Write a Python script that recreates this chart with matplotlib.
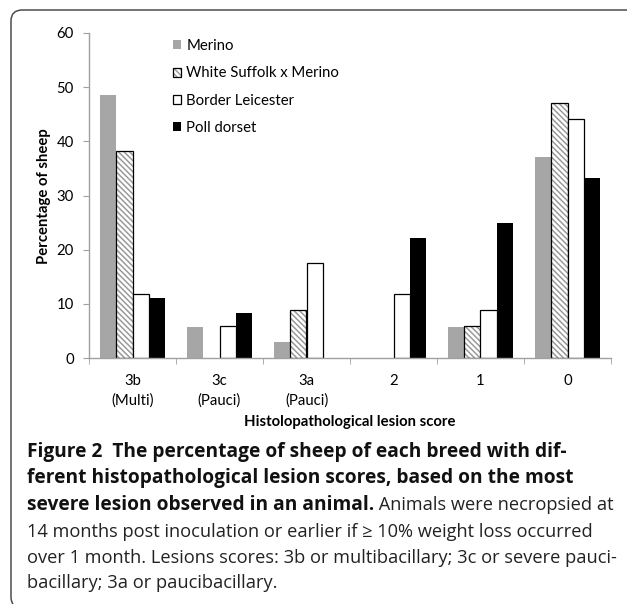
import matplotlib
matplotlib.use("Agg")
import matplotlib.pyplot as plt
from matplotlib.patches import Patch, FancyBboxPatch
import numpy as np

# data
categories = ["3b\n(Multi)", "3c\n(Pauci)", "3a\n(Pauci)", "2", "1", "0"]
breeds = ["Merino", "White Suffolk x Merino", "Border Leicester", "Poll dorset"]
merino = [48.6, 5.7, 2.9, 0, 5.7, 37.1]
ws_merino = [38.2, 0, 8.8, 0, 5.9, 47.1]
border_leicester = [11.8, 5.9, 17.6, 11.8, 8.8, 44.1]
poll_dorset = [11.1, 8.3, 0, 22.2, 25.0, 33.3]
y_ticks = [0, 10, 20, 30, 40, 50, 60]

caption_bold = ["Figure 2  The percentage of sheep of each breed with dif-",
                "ferent histopathological lesion scores, based on the most",
                "severe lesion observed in an animal."]
caption_rest = [" Animals were necropsied at",
                "14 months post inoculation or earlier if \u2265 10% weight loss occurred",
                "over 1 month. Lesions scores: 3b or multibacillary; 3c or severe pauci-",
                "bacillary; 3a or paucibacillary."]

W, H = 627, 604
plt.rcParams['font.family'] = ['Lato', 'DejaVu Sans']
plt.rcParams['hatch.linewidth'] = 1.1
fig = plt.figure(figsize=(W / 100, H / 100), dpi=100)
fs = 10.7

# rounded frame around figure + caption (cut at right and bottom)
frame = FancyBboxPatch((11 / W, -4 / H), 700 / W, (H - 10 + 4) / H,
                       boxstyle="round,pad=0,rounding_size=0.018",
                       transform=fig.transFigure, fill=False,
                       edgecolor="#4d4d4d", linewidth=1.1, clip_on=False)
fig.patches.append(frame)

ax = fig.add_axes([89 / W, (H - 358) / H, (611 - 89) / W, (358 - 33) / H])

x = np.arange(len(categories))
bw = 0.184
gray = "#a6a6a6"
hatch_col = "#9a9a9a"
hatch = "\\" * 6


def lw_for(vals, lw):
    return [lw if v > 0 else 0 for v in vals]


ax.bar(x - 1.5 * bw, merino, bw, color=gray, linewidth=0)
ax.bar(x - 0.5 * bw, ws_merino, bw, facecolor="white", edgecolor=hatch_col,
       hatch=hatch, linewidth=0)
ax.bar(x - 0.5 * bw, ws_merino, bw, fill=False, edgecolor="black",
       linewidth=lw_for(ws_merino, 0.9))
ax.bar(x + 0.5 * bw, border_leicester, bw, facecolor="white", edgecolor="black",
       linewidth=lw_for(border_leicester, 0.9))
ax.bar(x + 1.5 * bw, poll_dorset, bw, color="black", linewidth=0)

ax.set_xlim(-0.5, len(categories) - 0.5)
ax.set_ylim(0, 60)
ax.set_yticks(y_ticks)
ax.set_xticks(x)
ax.set_xticklabels(categories, fontsize=fs, linespacing=1.45)
ax.set_xticks(np.arange(len(categories) + 1) - 0.5, minor=True)
ax.tick_params(axis="x", which="major", length=0, pad=11.5)
ax.tick_params(axis="x", which="minor", length=4, color="#a0a0a0", direction="out")
ax.tick_params(axis="y", length=4, color="#a0a0a0", labelsize=fs, pad=7)
for s in ["top", "right"]:
    ax.spines[s].set_visible(False)
for s in ["left", "bottom"]:
    ax.spines[s].set_color("#a0a0a0")
    ax.spines[s].set_linewidth(1)

fig.text(44 / W, 1 - 196 / H, "Percentage of sheep", rotation=90,
         ha="center", va="center", fontsize=fs, fontweight="bold")
fig.text(350 / W, 1 - 422 / H, "Histolopathological lesion score",
         ha="center", va="center", fontsize=fs, fontweight="bold")

handles = [Patch(facecolor=gray, linewidth=0),
           (Patch(facecolor="white", edgecolor=hatch_col, hatch=hatch, linewidth=0),
            Patch(fill=False, edgecolor="black", linewidth=0.9)),
           Patch(facecolor="white", edgecolor="black", linewidth=0.9),
           Patch(facecolor="black", linewidth=0)]
fig.legend(handles, breeds, loc="upper left", bbox_to_anchor=(173 / W, 1 - 39 / H),
           frameon=False, fontsize=fs, handlelength=0.55, handleheight=0.55,
           handletextpad=0.35, labelspacing=0.9, borderpad=0, borderaxespad=0)

# caption
cap_font = ["Open Sans", "DejaVu Sans"]
renderer = fig.canvas.get_renderer()


def width_of(s, **kw):
    t = fig.text(0, 0, s, **kw)
    w = t.get_window_extent(renderer).width
    t.remove()
    return w


bold_size = 11 * 535 / width_of(caption_bold[0], fontsize=11, fontweight="bold", family=cap_font)
reg_size = 11 * 570 / width_of(caption_rest[1], fontsize=11, family=cap_font)

line_y = [452, 478, 505, 532, 558, 583]
for i, s in enumerate(caption_bold):
    t = fig.text(27 / W, 1 - line_y[i] / H, s, fontsize=bold_size, fontweight="bold",
                 family=cap_font, ha="left", va="center", color="#111111")
end = t.get_window_extent(renderer).x1
fig.text(end / W, 1 - line_y[2] / H, caption_rest[0], fontsize=reg_size,
         family=cap_font, ha="left", va="center", color="#222222")
for i, s in enumerate(caption_rest[1:]):
    fig.text(27 / W, 1 - line_y[3 + i] / H, s, fontsize=reg_size,
             family=cap_font, ha="left", va="center", color="#222222")

fig.savefig("out.png", dpi=100)
